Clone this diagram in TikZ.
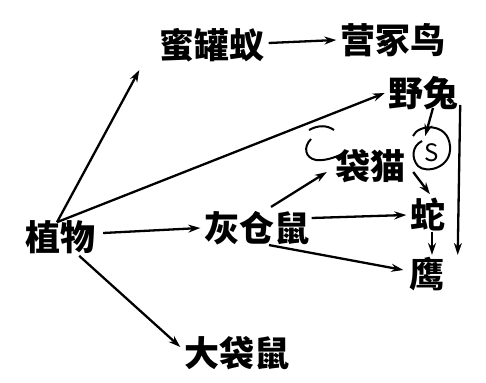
\documentclass[tikz,border=0pt]{standalone}
\usepackage{fontspec}
\setmainfont{Noto Sans CJK SC}
\usetikzlibrary{arrows.meta,calc}
\begin{document}
\begin{tikzpicture}[x=1pt,y=-1pt,
  lbl/.style={inner sep=0pt, font=\fontsize{35}{35}\selectfont\bfseries},
  arr/.style={line width=2.3pt, -{Stealth[length=12pt,width=8pt]}},
  handmark/.style={line width=2pt}]
\useasboundingbox (0,0) rectangle (486,382);
\node[lbl] (mgy) at (212,45) {蜜罐蚁};
\node[lbl] (ycn) at (393,40) {营冢鸟};
\node[lbl] (yt)  at (423,93) {野兔};
\node[lbl] (dm)  at (370,166) {袋猫};
\node[lbl] (zw)  at (60,237) {植物};
\node[lbl] (hcs) at (257,228) {灰仓鼠};
\node[lbl] (she) at (428,215) {蛇};
\node[lbl] (ying) at (427,274) {鹰};
\node[lbl] (dds) at (237,353) {大袋鼠};
\coordinate (root) at ($(zw.north)+(-3,2)$);
% arrows
\draw[arr] (root) -- ($(mgy.south west)+(-20,8)$);
\draw[arr] (root) -- ($(yt.west)+(-3,0)$);
\draw[arr] ($(zw.east)+(8,-4)$) -- ($(hcs.west)+(-4,0)$);
\draw[arr] ($(zw.south east)+(-16,2)$) -- ($(dds.west)+(-4,-6)$);
\draw[arr] ($(mgy.east)+(4,-2)$) -- ($(ycn.west)+(-4,0)$);
\draw[arr] ($(hcs.north)+(14,-4)$) -- ($(dm.west)+(-8,6)$);
\draw[arr] ($(hcs.east)+(2,-10)$) -- ($(she.west)+(-4,0)$);
\draw[arr] ($(hcs.south)+(12,0)$) -- ($(ying.west)+(-6,-4)$);
\draw[arr] ($(yt.south)+(10,-2)$) -- ($(dm.east)+(20,-30)$);
\draw[arr] ($(dm.east)+(8,6)$) -- ($(she.north)+(2,-4)$);
\draw[arr] ($(she.south)+(4,0)$) -- ($(ying.north)+(5,-2)$);
\draw[arr] ($(yt.east)+(2,12)$) -- ($(ying.north east)+(13,-2)$);
% handwritten marks
\draw[handmark] (413,136) .. controls (418,124) and (448,122) .. (450,146)
  .. controls (452,168) and (426,174) .. (418,166)
  .. controls (411,158) and (412,146) .. (422,141);
\node[inner sep=0pt, font=\fontsize{24}{24}\selectfont] (s) at (432,153) {S};
\draw[handmark] (309,130) .. controls (318,125) and (327,125) .. (334,130);
\draw[handmark] (311,139) .. controls (303,147) and (305,158) .. (316,160)
  .. controls (324,161) and (334,158) .. (342,154);
\end{tikzpicture}
\end{document}
